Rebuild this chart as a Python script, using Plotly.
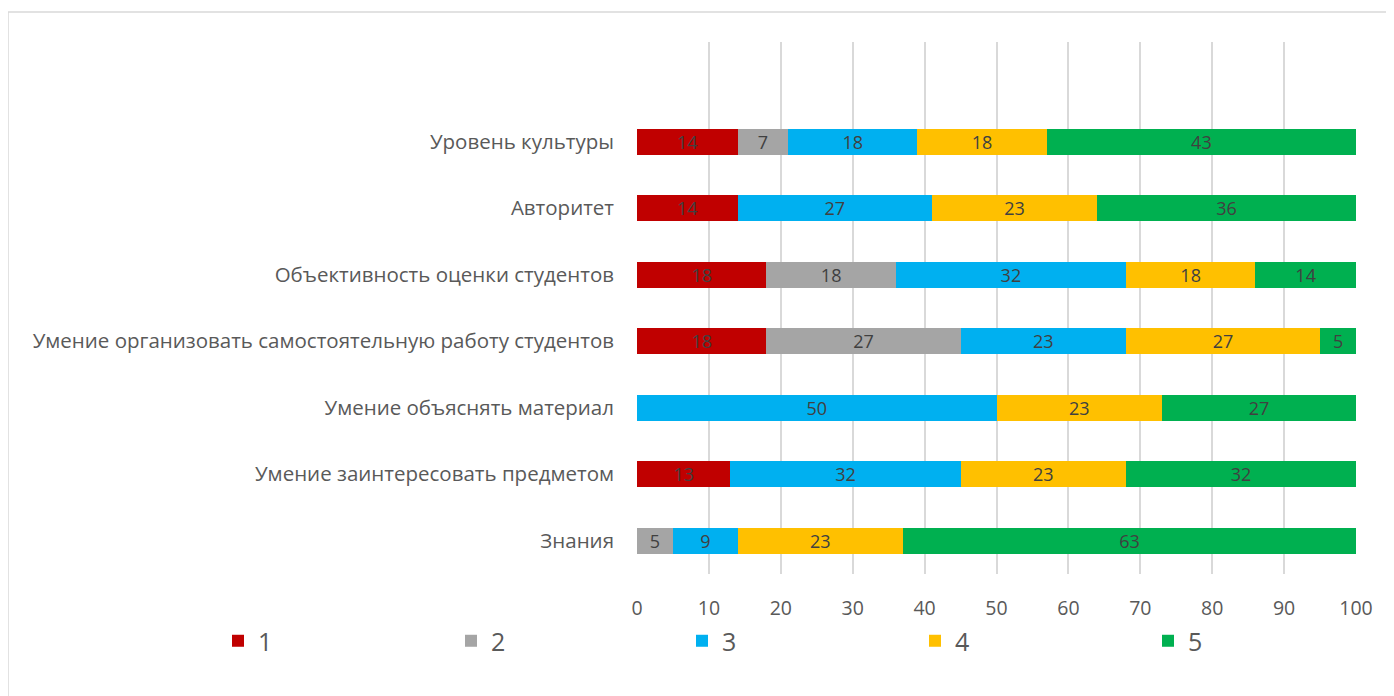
import plotly.graph_objects as go

categories = [
    "Знания",
    "Умение заинтересовать предметом",
    "Умение объяснять материал",
    "Умение организовать самостоятельную работу студентов",
    "Объективность оценки студентов",
    "Авторитет",
    "Уровень культуры",
]
series_names = ["1", "2", "3", "4", "5"]
s1 = [None, 13, None, 18, 18, 14, 14]
s2 = [5, None, None, 27, 18, None, 7]
s3 = [9, 32, 50, 23, 32, 27, 18]
s4 = [23, 23, 23, 27, 18, 23, 18]
s5 = [63, 32, 27, 5, 14, 36, 43]
x_ticks = [0, 10, 20, 30, 40, 50, 60, 70, 80, 90, 100]

colors = ["#C00000", "#A5A5A5", "#00B0F0", "#FFC000", "#00B050"]
FONT = "Open Sans"

# page body has an 8px offset; compensate
OFF = 8
L, T = 637 - OFF, 42 - OFF
B = 696 - (574 - OFF)
R = 1394 - (1356 - OFF)

legend_ids = ["legend", "legend2", "legend3", "legend4", "legend5"]
legend_left_px = [233, 466, 697, 930, 1163]

fig = go.Figure()
for name, vals, col, lid in zip(series_names, [s1, s2, s3, s4, s5], colors, legend_ids):
    fig.add_trace(go.Bar(
        y=categories, x=vals, name=name, orientation="h",
        marker=dict(color=col, line=dict(width=0)),
        width=0.39, legend=lid, showlegend=True,
        text=[("" if v is None else str(v)) for v in vals],
        textposition="inside", insidetextanchor="middle", textangle=0,
        textfont=dict(family=FONT, size=18, color="#404040"),
        constraintext="none",
    ))

pw = 1394 - L - R
ph = 696 - T - B
legends = {}
for lid, px in zip(legend_ids, legend_left_px):
    legends[lid] = dict(orientation="h", xref="container", yref="container",
                        x=(px - 23) / 1394, y=0.0905, xanchor="left", yanchor="middle",
                        font=dict(size=25, color="#595959"))

fig.update_layout(
    barmode="stack",
    showlegend=True,
    width=1394, height=696,
    paper_bgcolor="white", plot_bgcolor="white",
    margin=dict(l=L, r=R, t=T, b=B, autoexpand=False),
    font=dict(family=FONT, color="#595959"),
    uniformtext=dict(minsize=8, mode="show"),
    xaxis=dict(range=[0, 100], tickvals=x_ticks, showgrid=True,
               gridcolor="#D9D9D9", gridwidth=1.5, zeroline=False,
               showline=False, ticks="", tickfont=dict(size=19.5, color="#595959"),
               ticklabelstandoff=20),
    yaxis=dict(range=[-0.5, 7.5], showgrid=False, zeroline=False,
               showline=False, ticks="", ticklabelstandoff=22,
               tickfont=dict(size=20.5, color="#595959"), categoryorder="array",
               categoryarray=categories),
    shapes=[dict(type="rect", xref="paper", yref="paper",
                 x0=(0 - L) / pw, x1=1.2, y0=-0.5, y1=(ph + T - 4) / ph,
                 line=dict(color="#D9D9D9", width=1.5), fillcolor="rgba(0,0,0,0)",
                 layer="below")],
    **legends,
)

fig.write_html("out.html")
